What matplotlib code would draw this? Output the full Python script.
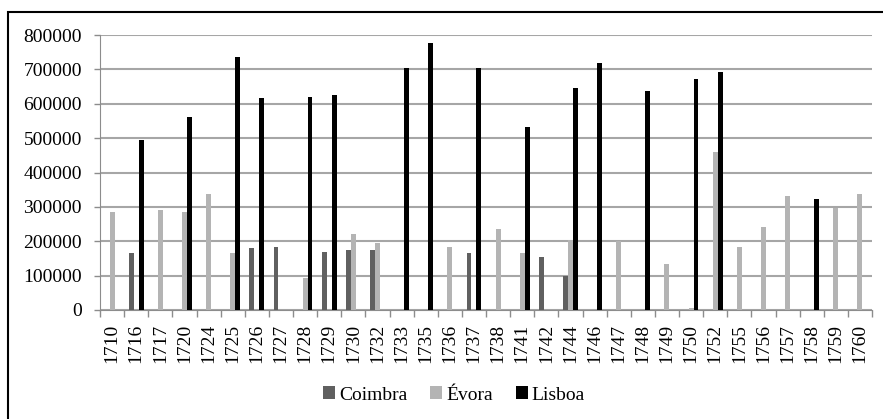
import numpy as np
import matplotlib
matplotlib.use("Agg")
import matplotlib.pyplot as plt
from matplotlib.patches import Rectangle

years = ["1710", "1716", "1717", "1720", "1724", "1725", "1726", "1727", "1728", "1729",
         "1730", "1732", "1733", "1735", "1736", "1737", "1738", "1741", "1742", "1744",
         "1746", "1747", "1748", "1749", "1750", "1752", "1755", "1756", "1757", "1758",
         "1759", "1760"]

coimbra = [0, 165000, 0, 0, 0, 0, 179000, 184000, 0, 170000,
           175000, 175000, 0, 0, 0, 165000, 0, 0, 153000, 100000,
           0, 0, 0, 0, 0, 0, 0, 0, 0, 0,
           0, 0]

evora = [286000, 0, 291000, 286000, 337000, 165000, 0, 0, 94000, 0,
         220000, 194000, 0, 0, 184000, 0, 235000, 165000, 0, 204000,
         0, 202000, 0, 133000, 7000, 459000, 184000, 241000, 332000, 0,
         296000, 337000]

lisboa = [0, 495000, 0, 561000, 0, 737000, 616000, 0, 621000, 626000,
          0, 0, 705000, 778000, 0, 705000, 0, 533000, 0, 645000,
          718000, 0, 637000, 0, 671000, 692000, 0, 0, 0, 322000,
          0, 0]

plt.rcParams['font.family'] = ['Liberation Serif', 'DejaVu Serif']

fig = plt.figure(figsize=(8.83, 4.19), dpi=100)
ax = fig.add_axes([100 / 883, 109 / 419, 772 / 883, 275 / 419])

# chart border (cropped on the right and bottom in the original)
fig.patches.append(Rectangle((8 / 883, -0.1), 1.2, (419 - 12) / 419 + 0.1,
                             transform=fig.transFigure, fill=False,
                             edgecolor="black", linewidth=1.5))

x = np.arange(len(years))
w = 0.205
ax.bar(x - w, coimbra, w, color="#606060", label="Coimbra", zorder=3)
ax.bar(x, evora, w, color="#b4b4b4", label="Évora", zorder=3)
ax.bar(x + w, lisboa, w, color="black", label="Lisboa", zorder=3)

ax.set_xlim(-0.5, len(years) - 0.5)
ax.set_ylim(0, 800000)
ax.set_yticks(np.arange(0, 800001, 100000))
ax.set_yticklabels([str(v) for v in range(0, 800001, 100000)], fontsize=14)
ax.set_xticks(x)
ax.set_xticklabels(years, rotation=90, fontsize=14)
ax.set_xticks(np.arange(-0.5, len(years), 1), minor=True)
ax.tick_params(axis="x", which="major", length=0, pad=10)
ax.tick_params(axis="x", which="minor", length=5, color="#8c8c8c", width=1)
ax.tick_params(axis="y", length=4, color="#8c8c8c", width=1, pad=9)

ax.grid(axis="y", color="#a6a6a6", linewidth=1.5, zorder=0)
for s in ["top", "right"]:
    ax.spines[s].set_visible(False)
ax.spines["left"].set_color("#8c8c8c")
ax.spines["bottom"].set_color("#8c8c8c")

fig.legend(loc="center", bbox_to_anchor=(454 / 883, 1 - 395 / 419), ncol=3,
           frameon=False, fontsize=14, handlelength=0.6, handleheight=0.6,
           handletextpad=0.2, columnspacing=1.2)

plt.savefig("out.png", dpi=100)
